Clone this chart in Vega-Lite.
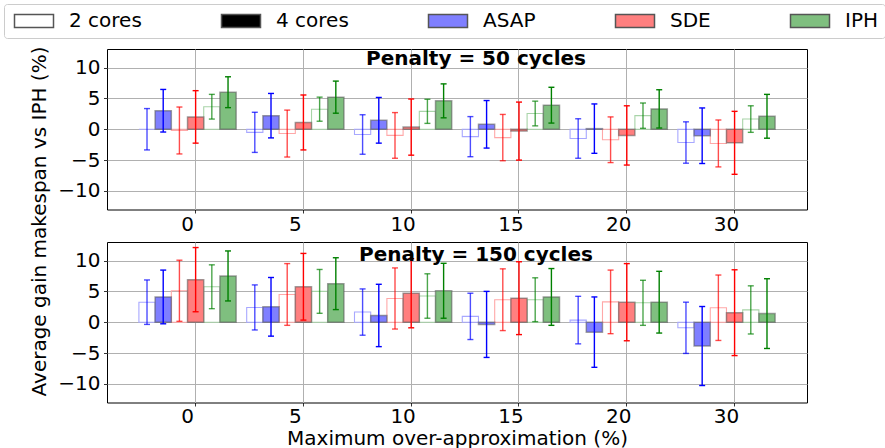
{
  "$schema": "https://vega.github.io/schema/vega-lite/v6.json",
  "background": "white",
  "padding": {"left": 3, "top": 3, "right": 2, "bottom": 0},
  "config": {
    "font": "DejaVu Sans",
    "view": {"stroke": "black", "strokeWidth": 1},
    "axis": {"labelFont": "DejaVu Sans", "labelFontSize": 20, "labelColor": "black", "titleFont": "DejaVu Sans", "titleFontSize": 20, "titleFontWeight": "normal", "titleColor": "black", "tickColor": "black", "tickSize": 3.5, "tickWidth": 0.8, "labelPadding": 3.5, "domain": false, "gridColor": "#b0b0b0", "gridWidth": 1},
    "title": {"font": "DejaVu Sans", "fontSize": 20, "fontWeight": "bold", "color": "black", "anchor": "middle", "frame": "group", "baseline": "alphabetic"}
  },
  "data": {"values": [
    {"p":50,"x":"0","m":"ASAP","c":2,"s":"ASAP 2","v":0.0,"lo":-3.35,"hi":3.35},
    {"p":50,"x":"0","m":"ASAP","c":4,"s":"ASAP 4","v":3.0,"lo":-0.45,"hi":6.45},
    {"p":50,"x":"0","m":"SDE","c":2,"s":"SDE 2","v":-0.2,"lo":-4.0,"hi":3.6},
    {"p":50,"x":"0","m":"SDE","c":4,"s":"SDE 4","v":2.0,"lo":-2.25,"hi":6.25},
    {"p":50,"x":"0","m":"IPH","c":2,"s":"IPH 2","v":3.65,"lo":1.65,"hi":5.65},
    {"p":50,"x":"0","m":"IPH","c":4,"s":"IPH 4","v":6.0,"lo":3.5,"hi":8.5},
    {"p":50,"x":"5","m":"ASAP","c":2,"s":"ASAP 2","v":-0.5,"lo":-3.75,"hi":2.75},
    {"p":50,"x":"5","m":"ASAP","c":4,"s":"ASAP 4","v":2.2,"lo":-1.4,"hi":5.8},
    {"p":50,"x":"5","m":"SDE","c":2,"s":"SDE 2","v":-0.7,"lo":-4.5,"hi":3.1},
    {"p":50,"x":"5","m":"SDE","c":4,"s":"SDE 4","v":1.1,"lo":-3.35,"hi":5.55},
    {"p":50,"x":"5","m":"IPH","c":2,"s":"IPH 2","v":3.25,"lo":1.3,"hi":5.2},
    {"p":50,"x":"5","m":"IPH","c":4,"s":"IPH 4","v":5.2,"lo":2.6,"hi":7.8},
    {"p":50,"x":"10","m":"ASAP","c":2,"s":"ASAP 2","v":-0.85,"lo":-4.05,"hi":2.35},
    {"p":50,"x":"10","m":"ASAP","c":4,"s":"ASAP 4","v":1.45,"lo":-2.25,"hi":5.15},
    {"p":50,"x":"10","m":"SDE","c":2,"s":"SDE 2","v":-1.0,"lo":-4.7,"hi":2.7},
    {"p":50,"x":"10","m":"SDE","c":4,"s":"SDE 4","v":0.35,"lo":-4.2,"hi":4.9},
    {"p":50,"x":"10","m":"IPH","c":2,"s":"IPH 2","v":2.9,"lo":0.95,"hi":4.85},
    {"p":50,"x":"10","m":"IPH","c":4,"s":"IPH 4","v":4.6,"lo":1.85,"hi":7.35},
    {"p":50,"x":"15","m":"ASAP","c":2,"s":"ASAP 2","v":-1.2,"lo":-4.45,"hi":2.05},
    {"p":50,"x":"15","m":"ASAP","c":4,"s":"ASAP 4","v":0.8,"lo":-3.05,"hi":4.65},
    {"p":50,"x":"15","m":"SDE","c":2,"s":"SDE 2","v":-1.35,"lo":-5.1,"hi":2.4},
    {"p":50,"x":"15","m":"SDE","c":4,"s":"SDE 4","v":-0.3,"lo":-5.0,"hi":4.4},
    {"p":50,"x":"15","m":"IPH","c":2,"s":"IPH 2","v":2.55,"lo":0.55,"hi":4.55},
    {"p":50,"x":"15","m":"IPH","c":4,"s":"IPH 4","v":3.9,"lo":1.0,"hi":6.8},
    {"p":50,"x":"20","m":"ASAP","c":2,"s":"ASAP 2","v":-1.5,"lo":-4.7,"hi":1.7},
    {"p":50,"x":"20","m":"ASAP","c":4,"s":"ASAP 4","v":0.1,"lo":-3.9,"hi":4.1},
    {"p":50,"x":"20","m":"SDE","c":2,"s":"SDE 2","v":-1.7,"lo":-5.4,"hi":2.0},
    {"p":50,"x":"20","m":"SDE","c":4,"s":"SDE 4","v":-1.0,"lo":-5.8,"hi":3.8},
    {"p":50,"x":"20","m":"IPH","c":2,"s":"IPH 2","v":2.2,"lo":0.15,"hi":4.25},
    {"p":50,"x":"20","m":"IPH","c":4,"s":"IPH 4","v":3.3,"lo":0.2,"hi":6.4},
    {"p":50,"x":"30","m":"ASAP","c":2,"s":"ASAP 2","v":-2.15,"lo":-5.5,"hi":1.2},
    {"p":50,"x":"30","m":"ASAP","c":4,"s":"ASAP 4","v":-1.05,"lo":-5.55,"hi":3.45},
    {"p":50,"x":"30","m":"SDE","c":2,"s":"SDE 2","v":-2.3,"lo":-6.1,"hi":1.5},
    {"p":50,"x":"30","m":"SDE","c":4,"s":"SDE 4","v":-2.2,"lo":-7.3,"hi":2.9},
    {"p":50,"x":"30","m":"IPH","c":2,"s":"IPH 2","v":1.65,"lo":-0.5,"hi":3.8},
    {"p":50,"x":"30","m":"IPH","c":4,"s":"IPH 4","v":2.1,"lo":-1.45,"hi":5.65},
    {"p":150,"x":"0","m":"ASAP","c":2,"s":"ASAP 2","v":3.25,"lo":-0.35,"hi":6.85},
    {"p":150,"x":"0","m":"ASAP","c":4,"s":"ASAP 4","v":4.1,"lo":-0.25,"hi":8.45},
    {"p":150,"x":"0","m":"SDE","c":2,"s":"SDE 2","v":5.1,"lo":0.15,"hi":10.05},
    {"p":150,"x":"0","m":"SDE","c":4,"s":"SDE 4","v":6.9,"lo":1.7,"hi":12.1},
    {"p":150,"x":"0","m":"IPH","c":2,"s":"IPH 2","v":5.75,"lo":2.2,"hi":9.3},
    {"p":150,"x":"0","m":"IPH","c":4,"s":"IPH 4","v":7.5,"lo":3.45,"hi":11.55},
    {"p":150,"x":"5","m":"ASAP","c":2,"s":"ASAP 2","v":2.4,"lo":-1.25,"hi":6.05},
    {"p":150,"x":"5","m":"ASAP","c":4,"s":"ASAP 4","v":2.5,"lo":-2.25,"hi":7.25},
    {"p":150,"x":"5","m":"SDE","c":2,"s":"SDE 2","v":4.5,"lo":-0.5,"hi":9.5},
    {"p":150,"x":"5","m":"SDE","c":4,"s":"SDE 4","v":5.75,"lo":0.35,"hi":11.15},
    {"p":150,"x":"5","m":"IPH","c":2,"s":"IPH 2","v":5.0,"lo":1.45,"hi":8.55},
    {"p":150,"x":"5","m":"IPH","c":4,"s":"IPH 4","v":6.25,"lo":2.05,"hi":10.45},
    {"p":150,"x":"10","m":"ASAP","c":2,"s":"ASAP 2","v":1.65,"lo":-2.1,"hi":5.4},
    {"p":150,"x":"10","m":"ASAP","c":4,"s":"ASAP 4","v":1.1,"lo":-3.95,"hi":6.15},
    {"p":150,"x":"10","m":"SDE","c":2,"s":"SDE 2","v":3.85,"lo":-1.1,"hi":8.8},
    {"p":150,"x":"10","m":"SDE","c":4,"s":"SDE 4","v":4.7,"lo":-0.9,"hi":10.3},
    {"p":150,"x":"10","m":"IPH","c":2,"s":"IPH 2","v":4.25,"lo":0.65,"hi":7.85},
    {"p":150,"x":"10","m":"IPH","c":4,"s":"IPH 4","v":5.1,"lo":0.65,"hi":9.55},
    {"p":150,"x":"15","m":"ASAP","c":2,"s":"ASAP 2","v":0.95,"lo":-2.8,"hi":4.7},
    {"p":150,"x":"15","m":"ASAP","c":4,"s":"ASAP 4","v":-0.35,"lo":-5.7,"hi":5.0},
    {"p":150,"x":"15","m":"SDE","c":2,"s":"SDE 2","v":3.65,"lo":-1.35,"hi":8.65},
    {"p":150,"x":"15","m":"SDE","c":4,"s":"SDE 4","v":3.9,"lo":-2.0,"hi":9.8},
    {"p":150,"x":"15","m":"IPH","c":2,"s":"IPH 2","v":3.65,"lo":0.1,"hi":7.2},
    {"p":150,"x":"15","m":"IPH","c":4,"s":"IPH 4","v":4.1,"lo":-0.5,"hi":8.7},
    {"p":150,"x":"20","m":"ASAP","c":2,"s":"ASAP 2","v":0.35,"lo":-3.5,"hi":4.2},
    {"p":150,"x":"20","m":"ASAP","c":4,"s":"ASAP 4","v":-1.6,"lo":-7.3,"hi":4.1},
    {"p":150,"x":"20","m":"SDE","c":2,"s":"SDE 2","v":3.3,"lo":-1.85,"hi":8.45},
    {"p":150,"x":"20","m":"SDE","c":4,"s":"SDE 4","v":3.25,"lo":-3.0,"hi":9.5},
    {"p":150,"x":"20","m":"IPH","c":2,"s":"IPH 2","v":3.15,"lo":-0.5,"hi":6.8},
    {"p":150,"x":"20","m":"IPH","c":4,"s":"IPH 4","v":3.25,"lo":-1.75,"hi":8.25},
    {"p":150,"x":"30","m":"ASAP","c":2,"s":"ASAP 2","v":-0.9,"lo":-5.05,"hi":3.25},
    {"p":150,"x":"30","m":"ASAP","c":4,"s":"ASAP 4","v":-3.85,"lo":-10.25,"hi":2.55},
    {"p":150,"x":"30","m":"SDE","c":2,"s":"SDE 2","v":2.35,"lo":-2.95,"hi":7.65},
    {"p":150,"x":"30","m":"SDE","c":4,"s":"SDE 4","v":1.55,"lo":-5.4,"hi":8.5},
    {"p":150,"x":"30","m":"IPH","c":2,"s":"IPH 2","v":2.0,"lo":-1.9,"hi":5.9},
    {"p":150,"x":"30","m":"IPH","c":4,"s":"IPH 4","v":1.4,"lo":-4.25,"hi":7.05}
  ]},
  "bounds": "flush",
  "spacing": 32,
  "vconcat": [
    {
      "width": 700, "height": 160.5,
      "title": {"text": "Penalty = 50 cycles", "offset": -23, "dx": 19},
      "transform": [{"filter": "datum.p == 50"}],
      "encoding": {
        "x": {"field": "x", "type": "ordinal", "scale": {"domain": ["0","5","10","15","20","30"], "paddingInner": 0.098, "paddingOuter": 0.296}, "axis": {"title": null, "labelAngle": 0, "labelPadding": 1, "bandPosition": 0.5833, "grid": true}},
        "xOffset": {"field": "s", "type": "nominal", "scale": {"domain": ["ASAP 2","ASAP 4","SDE 2","SDE 4","IPH 2","IPH 4"]}}
      },
      "layer": [
        {"transform": [{"filter": "datum.c == 2"}], "mark": {"type": "bar", "fill": "transparent", "strokeWidth": 1.1},
         "encoding": {
           "y": {"field": "v", "type": "quantitative", "scale": {"domain": [-13, 13], "nice": false, "zero": false}, "axis": {"title": "Average gain makespan vs IPH (%)", "titleY": 172, "titlePadding": 8, "values": [-10,-5,0,5,10], "grid": true, "labelExpr": "replace(datum.label, '-', '\u2212')"}},
           "stroke": {"field": "m", "type": "nominal", "scale": {"domain": ["ASAP","SDE","IPH"], "range": ["#a8a8ff","#ffa8a8","#a8d4a8"]}, "legend": null}}},
        {"transform": [{"filter": "datum.c == 4"}], "mark": {"type": "bar", "stroke": "#555555", "strokeOpacity": 0.55, "strokeWidth": 1.5},
         "encoding": {
           "y": {"field": "v", "type": "quantitative"},
           "fill": {"field": "m", "type": "nominal", "scale": {"domain": ["2 cores","4 cores","ASAP","SDE","IPH"], "range": ["white","black","#7f7fff","#ff7f7f","#7fbf7f"]},
             "legend": {"title": null, "orient": "none", "legendX": -103, "legendY": -45, "direction": "horizontal", "columns": 5, "columnPadding": 76, "symbolType": "M-3,-1H3V1H-3Z", "symbolSize": 169, "symbolOffset": 13, "labelOffset": 25, "labelFontSize": 20, "labelFont": "DejaVu Sans", "labelColor": "black", "padding": 7, "strokeColor": "#cccccc", "cornerRadius": 3, "fillColor": "white", "symbolOpacity": 1,
               "encode": {"symbols": {"update": {"stroke": {"signal": "datum.value === '2 cores' ? '#555555' : 'transparent'"}, "strokeWidth": {"value": 1}, "strokeDash": {"signal": "datum.value === '2 cores' ? [2, 1.5] : [1, 0]"}}}}}}}},
        {"mark": {"type": "rule", "strokeWidth": 1.4},
         "encoding": {"y": {"field": "lo", "type": "quantitative"}, "y2": {"field": "hi"},
           "color": {"field": "m", "type": "nominal", "scale": {"domain": ["ASAP","SDE","IPH"], "range": ["#0000ff","#ff0000","#008000"]}, "legend": null},
           "opacity": {"condition": {"test": "datum.c == 2", "value": 0.7}, "value": 1}}},
        {"mark": {"type": "tick", "thickness": 1.4, "size": 6},
         "encoding": {"y": {"field": "lo", "type": "quantitative"},
           "color": {"field": "m", "type": "nominal", "legend": null},
           "opacity": {"condition": {"test": "datum.c == 2", "value": 0.7}, "value": 1}}},
        {"mark": {"type": "tick", "thickness": 1.4, "size": 6},
         "encoding": {"y": {"field": "hi", "type": "quantitative"},
           "color": {"field": "m", "type": "nominal", "legend": null},
           "opacity": {"condition": {"test": "datum.c == 2", "value": 0.7}, "value": 1}}}
      ]
    },
    {
      "width": 700, "height": 160.5,
      "title": {"text": "Penalty = 150 cycles", "offset": -23, "dx": 19},
      "transform": [{"filter": "datum.p == 150"}],
      "encoding": {
        "x": {"field": "x", "type": "ordinal", "scale": {"domain": ["0","5","10","15","20","30"], "paddingInner": 0.098, "paddingOuter": 0.296}, "axis": {"title": "Maximum over-approximation (%)", "titlePadding": 2, "labelPadding": 0, "labelAngle": 0, "bandPosition": 0.5833, "grid": true}},
        "xOffset": {"field": "s", "type": "nominal", "scale": {"domain": ["ASAP 2","ASAP 4","SDE 2","SDE 4","IPH 2","IPH 4"]}}
      },
      "layer": [
        {"transform": [{"filter": "datum.c == 2"}], "mark": {"type": "bar", "fill": "transparent", "strokeWidth": 1.1},
         "encoding": {
           "y": {"field": "v", "type": "quantitative", "scale": {"domain": [-13, 13], "nice": false, "zero": false}, "axis": {"title": null, "values": [-10,-5,0,5,10], "grid": true, "labelExpr": "replace(datum.label, '-', '\u2212')"}},
           "stroke": {"field": "m", "type": "nominal", "scale": {"domain": ["ASAP","SDE","IPH"], "range": ["#a8a8ff","#ffa8a8","#a8d4a8"]}, "legend": null}}},
        {"transform": [{"filter": "datum.c == 4"}], "mark": {"type": "bar", "stroke": "#555555", "strokeOpacity": 0.55, "strokeWidth": 1.5},
         "encoding": {
           "y": {"field": "v", "type": "quantitative"},
           "fill": {"field": "m", "type": "nominal", "scale": {"domain": ["2 cores","4 cores","ASAP","SDE","IPH"], "range": ["white","black","#7f7fff","#ff7f7f","#7fbf7f"]}}}},
        {"mark": {"type": "rule", "strokeWidth": 1.4},
         "encoding": {"y": {"field": "lo", "type": "quantitative"}, "y2": {"field": "hi"},
           "color": {"field": "m", "type": "nominal", "scale": {"domain": ["ASAP","SDE","IPH"], "range": ["#0000ff","#ff0000","#008000"]}, "legend": null},
           "opacity": {"condition": {"test": "datum.c == 2", "value": 0.7}, "value": 1}}},
        {"mark": {"type": "tick", "thickness": 1.4, "size": 6},
         "encoding": {"y": {"field": "lo", "type": "quantitative"},
           "color": {"field": "m", "type": "nominal", "legend": null},
           "opacity": {"condition": {"test": "datum.c == 2", "value": 0.7}, "value": 1}}},
        {"mark": {"type": "tick", "thickness": 1.4, "size": 6},
         "encoding": {"y": {"field": "hi", "type": "quantitative"},
           "color": {"field": "m", "type": "nominal", "legend": null},
           "opacity": {"condition": {"test": "datum.c == 2", "value": 0.7}, "value": 1}}}
      ]
    }
  ]
}
